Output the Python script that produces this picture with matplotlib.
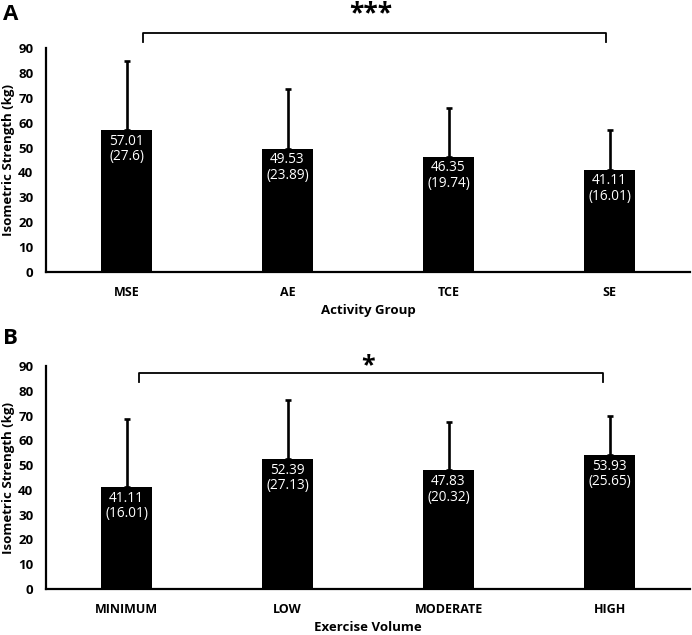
import matplotlib
matplotlib.use("Agg")
import matplotlib.pyplot as plt

# ---- data ----
groups_a = ["MSE", "AE", "TCE", "SE"]
means_a = [57.01, 49.53, 46.35, 41.11]
sd_a = [27.6, 23.89, 19.74, 16.01]
err_a = [27.6, 23.89, 19.74, 16.01]

groups_b = ["MINIMUM", "LOW", "MODERATE", "HIGH"]
means_b = [41.11, 52.39, 47.83, 53.93]
sd_b = [16.01, 27.13, 20.32, 25.65]
err_b = [27.6, 23.89, 19.74, 16.01]

yticks = [0, 10, 20, 30, 40, 50, 60, 70, 80, 90]

plt.rcParams['font.family'] = ['Open Sans', 'DejaVu Sans']

fig = plt.figure(figsize=(6.92, 6.35), dpi=100)
W, H = 692, 635


def make_ax(bottom_px, top_px):
    left, right = 46, 690
    return fig.add_axes([left / W, 1 - bottom_px / H, (right - left) / W, (bottom_px - top_px) / H])


def draw(ax, cats, means, sds, errs, xlabel, br_y, br_tick, br_x0, br_x1, star, star_y, star_size):
    x = list(range(len(cats)))
    ax.bar(x, means, width=0.32, color="black", zorder=2)
    ax.errorbar(x, means, yerr=[[0] * len(errs), errs], fmt="none", ecolor="black",
                elinewidth=1.9, capsize=2, capthick=1.9, zorder=1)
    for xi, m, s in zip(x, means, sds):
        ax.annotate(f"{m:.2f}\n({s})", (xi, m), xytext=(0, -2.5), textcoords="offset points",
                    ha="center", va="top", color="white", fontsize=9.8, linespacing=1.05)
    ax.set_xlim(-0.5, len(cats) - 0.5)
    ax.set_ylim(0, 90)
    ax.set_yticks(yticks)
    ax.set_xticks(x)
    ax.set_xticklabels(cats)
    ax.tick_params(length=0, labelsize=9)
    ax.tick_params(axis="y", labelsize=9.5, pad=9)
    ax.tick_params(axis="x", pad=10)
    for lab in ax.get_xticklabels() + ax.get_yticklabels():
        lab.set_fontweight("bold")
    for sp in ["top", "right"]:
        ax.spines[sp].set_visible(False)
    for sp in ["left", "bottom"]:
        ax.spines[sp].set_linewidth(1.6)
    ax.set_xlabel(xlabel, fontweight="bold", fontsize=9.5, labelpad=4)
    ax.set_ylabel("Isometric Strength (kg)", fontweight="bold", fontsize=9.5, labelpad=2)
    ax.plot([br_x0, br_x0, br_x1, br_x1], [br_tick, br_y, br_y, br_tick], color="black",
            lw=1.3, clip_on=False)
    ax.text((br_x0 + br_x1) / 2 - 0.02, star_y, star, ha="center", va="center",
            fontsize=star_size, fontweight="bold", clip_on=False)


ax_a = make_ax(272, 48)
draw(ax_a, groups_a, means_a, sd_a, err_a, "Activity Group",
     96.0, 92.3, 0.1, 2.98, "***", 103.8, 19)
ax_b = make_ax(589, 366)
draw(ax_b, groups_b, means_b, sd_b, err_b, "Exercise Volume",
     87.2, 83.5, 0.08, 2.96, "*", 90.2, 18)

fig.text(3 / W, 1 - 15 / H, "A", fontsize=16, fontweight="bold", va="center", ha="left")
fig.text(3 / W, 1 - 338 / H, "B", fontsize=16, fontweight="bold", va="center", ha="left")

fig.savefig("out.png", dpi=100)
